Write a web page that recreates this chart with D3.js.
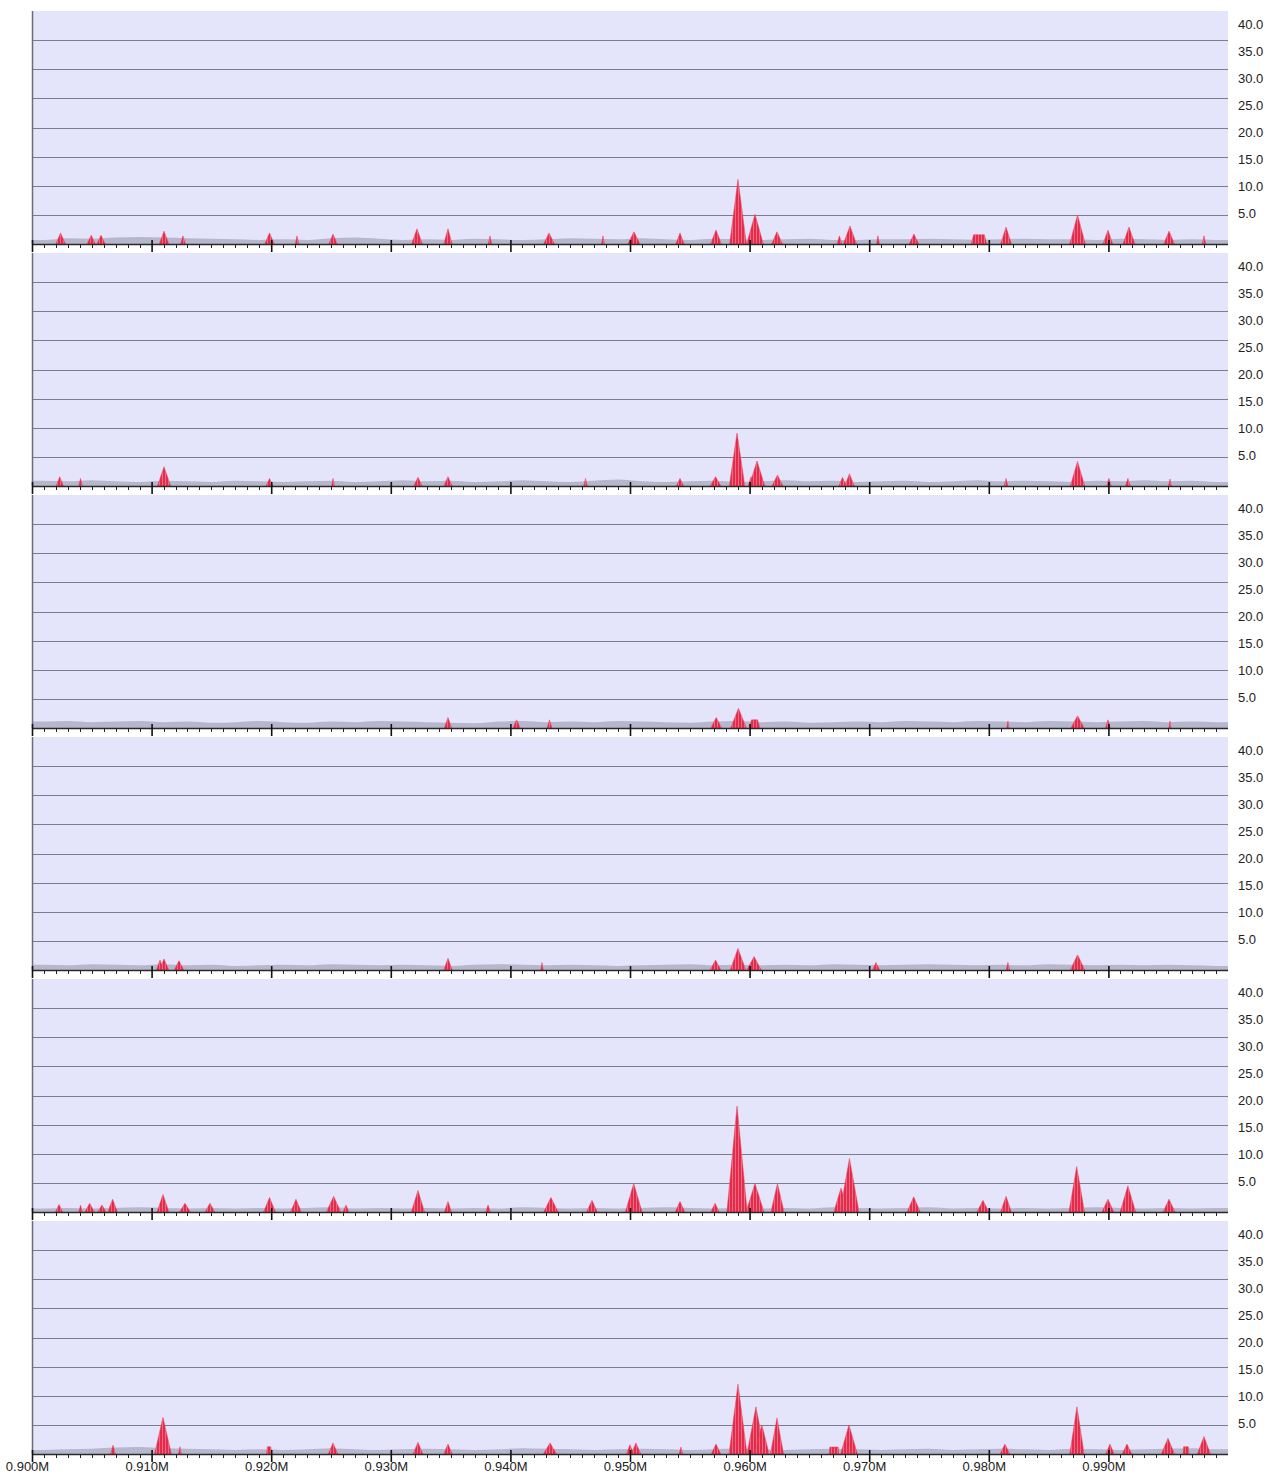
<!DOCTYPE html>
<html>
<head>
<meta charset="utf-8">
<script src="https://cdn.jsdelivr.net/npm/d3@7"></script>
<style>
  body { margin: 0; background: #fff; }
  svg { display: block; font-family: "Liberation Sans", Arial, sans-serif; }
</style>
</head>
<body>
<div id="chart"></div>
<script>
// region shown, in bp
const regionStart = 900000;
const regionEnd = 1000000;

const yTickValues = [5, 10, 15, 20, 25, 30, 35, 40];
const xLabelValues = [900000, 910000, 920000, 930000, 940000, 950000, 960000, 970000, 980000, 990000];

// background signal, one value per 2 kb bin
const gray1 = [0.7,1.0,0.9,1.1,1.2,1.1,1.0,0.9,0.8,0.7,0.8,0.7,1.0,1.1,0.9,0.7,0.8,0.7,0.9,0.8,0.7,0.8,1.0,0.9,0.8,1.0,0.8,0.7,0.9,0.8,0.7,0.8,0.9,0.7,0.7,0.8,0.8,0.9,0.8,0.7,0.8,0.9,0.8,0.8,0.7,0.9,0.8,0.7,0.8,0.7];
const gray2 = [0.9,0.8,1.0,0.8,0.7,0.9,0.8,0.7,0.9,0.8,0.7,0.8,0.9,0.7,0.8,1.0,0.8,0.9,0.7,0.8,1.0,0.8,0.7,0.9,1.1,0.8,0.7,0.8,0.9,0.7,0.8,1.0,0.8,0.9,0.7,0.8,0.9,0.7,0.8,1.0,0.8,0.9,0.8,0.7,0.9,0.8,1.0,0.8,0.9,0.7];
const gray3 = [1.1,1.2,1.0,1.1,1.2,1.0,1.1,0.9,1.0,1.2,1.0,0.9,1.1,1.0,1.2,1.1,1.0,0.9,0.8,1.1,1.2,1.0,1.1,1.0,1.2,1.1,1.0,0.9,1.1,1.2,1.0,1.1,0.9,1.0,1.1,1.0,1.2,1.1,1.0,1.2,1.1,1.0,1.2,1.1,1.0,1.1,1.2,1.0,1.1,1.0];
const gray4 = [0.9,0.8,1.0,0.9,0.8,1.0,0.8,0.9,0.7,0.8,0.9,0.8,1.0,0.9,0.8,0.9,0.8,0.7,0.9,1.0,0.9,0.8,0.9,0.8,0.7,0.8,0.9,1.0,0.8,0.9,0.8,0.9,0.8,1.0,0.9,0.8,0.9,1.0,0.9,0.8,0.9,0.8,1.0,0.9,0.8,0.9,0.8,0.9,0.8,0.7];
const gray5 = [0.6,0.7,0.6,0.7,0.8,0.7,0.6,0.7,0.6,0.7,0.6,0.7,0.8,0.6,0.7,0.6,0.7,0.6,0.7,0.6,0.8,0.7,0.6,0.7,0.6,0.7,0.8,0.7,0.6,0.7,0.6,0.7,0.6,0.8,0.7,0.6,0.7,0.8,0.6,0.7,0.6,0.7,0.6,0.7,0.8,0.7,0.6,0.7,0.6,0.7];
const gray6 = [0.7,0.8,0.9,1.1,1.2,1.0,0.9,0.8,0.7,0.8,0.7,0.8,1.0,0.8,0.7,0.8,0.9,0.8,0.7,0.8,1.0,0.9,0.8,0.7,0.8,0.9,0.8,0.7,0.8,1.0,0.8,0.7,0.8,0.9,0.8,0.7,0.8,0.9,0.7,0.8,0.9,0.8,0.7,0.9,0.8,0.7,0.8,0.9,1.0,0.8];

// peaks: [centre kb, height, half width kb, flat half width kb]
const peaks1 = [
  [902.39,1.9,0.4,0],[904.95,1.5,0.35,0],[905.77,1.5,0.35,0],[911.04,2.2,0.4,0],[912.62,1.4,0.2,0],
  [919.86,1.9,0.4,0],[922.16,1.4,0.15,0],[925.17,1.7,0.35,0],[932.19,2.6,0.45,0],[934.78,2.6,0.35,0],
  [938.29,1.4,0.15,0],[943.23,1.9,0.45,0],[947.74,1.4,0.12,0],[950.33,2.1,0.5,0],[954.18,1.9,0.35,0],
  [957.19,2.4,0.45,0],[959.03,11.1,0.7,0],[960.45,5.1,0.7,0],[962.29,2.1,0.45,0],[967.51,1.4,0.2,0],
  [968.39,3.1,0.55,0],[970.73,1.4,0.12,0],[973.74,1.7,0.4,0],[979.18,1.6,0.2,0.45],[981.44,2.9,0.45,0],
  [987.42,5.0,0.65,0],[989.96,2.4,0.4,0],[991.72,2.9,0.5,0],[995.07,2.2,0.45,0],[997.99,1.4,0.15,0]
];
const peaks2 = [
  [902.32,1.6,0.3,0],[904.06,1.3,0.15,0],[911.04,3.3,0.55,0],[919.86,1.3,0.3,0],[925.17,1.3,0.12,0],
  [932.27,1.5,0.35,0],[934.78,1.6,0.35,0],[946.28,1.3,0.15,0],[954.18,1.3,0.3,0],[957.15,1.6,0.45,0],
  [958.95,9.1,0.65,0],[960.12,1.6,0.25,0],[960.62,4.3,0.65,0],[962.33,1.9,0.45,0],[967.77,1.5,0.3,0],
  [968.35,2.1,0.4,0],[981.44,1.3,0.15,0],[987.42,4.2,0.6,0],[990.04,1.3,0.2,0],[991.63,1.3,0.2,0],
  [995.15,1.2,0.12,0]
];
const peaks3 = [
  [934.78,1.8,0.3,0],[940.52,1.4,0.3,0],[943.27,1.4,0.2,0],[957.21,1.8,0.45,0],[959.07,3.4,0.65,0],
  [960.41,1.4,0.2,0.25],[981.6,1.2,0.1,0],[987.42,2.1,0.55,0],[989.96,1.4,0.2,0],[995.15,1.2,0.1,0]
];
const peaks4 = [
  [910.7,1.7,0.3,0],[911.04,1.9,0.4,0],[912.29,1.6,0.4,0],[934.78,2.0,0.35,0],[942.64,1.3,0.1,0],
  [957.15,1.7,0.45,0],[959.03,3.7,0.65,0],[960.37,2.3,0.6,0],[970.57,1.3,0.3,0],[981.6,1.3,0.15,0],
  [987.42,2.6,0.6,0]
];
const peaks5 = [
  [902.26,1.3,0.3,0],[904.06,1.2,0.15,0],[904.82,1.5,0.4,0],[905.85,1.2,0.35,0],[906.74,2.2,0.4,0],
  [910.95,3.0,0.5,0],[912.79,1.5,0.45,0],[914.88,1.5,0.4,0],[919.86,2.5,0.5,0],[922.07,2.2,0.45,0],
  [925.22,2.7,0.6,0],[926.25,1.2,0.25,0],[932.27,3.7,0.55,0],[934.78,1.8,0.3,0],[938.13,1.2,0.2,0],
  [943.39,2.5,0.6,0],[946.82,2.0,0.45,0],[950.31,4.9,0.7,0],[954.18,1.8,0.4,0],[957.11,1.5,0.35,0],
  [958.95,18.2,0.85,0],[960.45,4.9,0.75,0],[962.33,4.9,0.55,0],[967.64,4.1,0.6,0],[968.35,9.2,0.8,0],
  [973.72,2.6,0.55,0],[979.51,2.0,0.5,0],[981.44,2.7,0.45,0],[987.35,7.8,0.65,0],[989.96,2.2,0.5,0],
  [991.63,4.5,0.65,0],[995.07,2.2,0.5,0]
];
const peaks6 = [
  [906.77,1.5,0.2,0],[910.95,6.3,0.7,0],[912.37,1.25,0.12,0],[919.82,1.25,0.05,0.15],[925.17,1.9,0.4,0],
  [932.27,2.0,0.4,0],[934.78,1.7,0.35,0],[943.31,1.9,0.55,0],[950.0,1.6,0.3,0],[950.5,1.9,0.4,0],
  [954.26,1.2,0.15,0],[957.19,1.7,0.4,0],[959.03,12.0,0.75,0],[960.53,8.1,0.75,0],[961.03,5.0,0.6,0],
  [962.29,6.2,0.55,0],[967.06,1.2,0.05,0.35],[968.31,5.0,0.7,0],[981.35,1.7,0.4,0],[987.37,8.1,0.6,0],
  [990.13,1.7,0.35,0],[991.55,1.7,0.4,0],[994.98,2.7,0.55,0],[996.49,1.25,0.05,0.2],[997.99,3.0,0.55,0]
];

const tracks = [
  {gray: gray1, peaks: peaks1},
  {gray: gray2, peaks: peaks2},
  {gray: gray3, peaks: peaks3},
  {gray: gray4, peaks: peaks4},
  {gray: gray5, peaks: peaks5},
  {gray: gray6, peaks: peaks6}
];

const WIDTH = 1279, HEIGHT = 1484;
const LEFT = 32, RIGHT = 1228;
const TOP = 11, PANEL_H = 233, PANEL_STEP = 242;

const svg = d3.select(`#chart`).append(`svg`)
  .attr(`width`, WIDTH)
  .attr(`height`, HEIGHT);

// stripes in the red peaks
const pattern = svg.append(`defs`).append(`pattern`)
  .attr(`id`, `peakStripes`)
  .attr(`patternUnits`, `userSpaceOnUse`)
  .attr(`width`, 3)
  .attr(`height`, 4);
pattern.append(`rect`).attr(`width`, 3).attr(`height`, 4).attr(`fill`, `#e32c4b`);
pattern.append(`rect`).attr(`width`, 1).attr(`height`, 4).attr(`fill`, `#ee6a82`);

const x = d3.scaleLinear().domain([regionStart, regionEnd]).range([LEFT, RIGHT]);
const y = d3.scaleLinear().domain([0, 40]).range([PANEL_H, 0]);
// labels on the right sit on their own spacing
const yLabel = d3.scaleLinear().domain([5, 40]).range([202, 13]);

const grayArea = d3.area()
  .x(d => x(d[0]))
  .y0(y(0))
  .y1(d => y(d[1]))
  .curve(d3.curveMonotoneX);

const peakArea = d3.area()
  .x(d => x(d[0] * 1000))
  .y0(y(0))
  .y1(d => y(d[1]));

tracks.forEach((track, index) => {
  const g = svg.append(`g`)
    .attr(`transform`, `translate(0,${TOP + PANEL_STEP * index})`);

  g.append(`rect`)
    .attr(`x`, LEFT)
    .attr(`y`, 0)
    .attr(`width`, RIGHT - LEFT)
    .attr(`height`, PANEL_H)
    .attr(`fill`, `#e4e4fa`);

  // grid
  g.selectAll(`.grid`)
    .data(yTickValues.filter(v => v < 40))
    .join(`line`)
    .attr(`class`, `grid`)
    .attr(`x1`, LEFT)
    .attr(`x2`, RIGHT)
    .attr(`y1`, d => Math.round(y(d)) + 0.5)
    .attr(`y2`, d => Math.round(y(d)) + 0.5)
    .attr(`stroke`, `#7c7c8c`)
    .attr(`stroke-width`, 1);

  // background signal
  const grayPoints = [[regionStart, track.gray[0]]]
    .concat(track.gray.map((v, i) => [regionStart + (2 * i + 1) * 1000, v]))
    .concat([[regionEnd, track.gray[track.gray.length - 1]]]);
  g.append(`path`)
    .datum(grayPoints)
    .attr(`d`, grayArea)
    .attr(`fill`, `#b6b6cc`);

  // peaks
  g.selectAll(`.peak`)
    .data(track.peaks)
    .join(`path`)
    .attr(`class`, `peak`)
    .attr(`d`, p => peakArea([
      [p[0] - p[2] - p[3], 0],
      [p[0] - p[3], p[1]],
      [p[0] + p[3], p[1]],
      [p[0] + p[2] + p[3], 0]
    ]))
    .attr(`fill`, `url(#peakStripes)`)
    .attr(`stroke`, `#e8405c`)
    .attr(`stroke-width`, 0.5);

  // left edge
  g.append(`line`)
    .attr(`x1`, LEFT + 0.5).attr(`x2`, LEFT + 0.5)
    .attr(`y1`, 0).attr(`y2`, PANEL_H)
    .attr(`stroke`, `#6a6a78`)
    .attr(`stroke-width`, 1.5);

  // right labels
  g.selectAll(`.ylab`)
    .data(yTickValues)
    .join(`text`)
    .attr(`class`, `ylab`)
    .attr(`x`, 1238)
    .attr(`y`, d => yLabel(d) + 5)
    .attr(`font-size`, 13)
    .attr(`fill`, `#222`)
    .text(d => d.toFixed(1));

  // baseline axis
  const base = PANEL_H;
  g.append(`line`)
    .attr(`x1`, LEFT).attr(`x2`, RIGHT)
    .attr(`y1`, base + 0.5).attr(`y2`, base + 0.5)
    .attr(`stroke`, `#2a2a2a`)
    .attr(`stroke-width`, 1.5);

  const minor = d3.range(regionStart, regionEnd, 1000).filter(v => v % 10000 !== 0);
  g.selectAll(`.minor`)
    .data(minor)
    .join(`line`)
    .attr(`class`, `minor`)
    .attr(`x1`, d => Math.round(x(d)) + 0.5)
    .attr(`x2`, d => Math.round(x(d)) + 0.5)
    .attr(`y1`, base)
    .attr(`y2`, base + 4)
    .attr(`stroke`, `#222`)
    .attr(`stroke-width`, 1);

  g.selectAll(`.major`)
    .data(xLabelValues)
    .join(`line`)
    .attr(`class`, `major`)
    .attr(`x1`, d => x(d) + 0.5)
    .attr(`x2`, d => x(d) + 0.5)
    .attr(`y1`, base - 4)
    .attr(`y2`, base + 8)
    .attr(`stroke`, `#111`)
    .attr(`stroke-width`, 1.6);

  if (index === tracks.length - 1) {
    g.selectAll(`.xlab`)
      .data(xLabelValues)
      .join(`text`)
      .attr(`class`, `xlab`)
      .attr(`x`, d => x(d) - 4.5)
      .attr(`y`, base + 17)
      .attr(`text-anchor`, `middle`)
      .attr(`font-size`, 13)
      .attr(`fill`, `#222`)
      .text(d => (d / 1e6).toFixed(3) + `M`);
  }
});
</script>
</body>
</html>
